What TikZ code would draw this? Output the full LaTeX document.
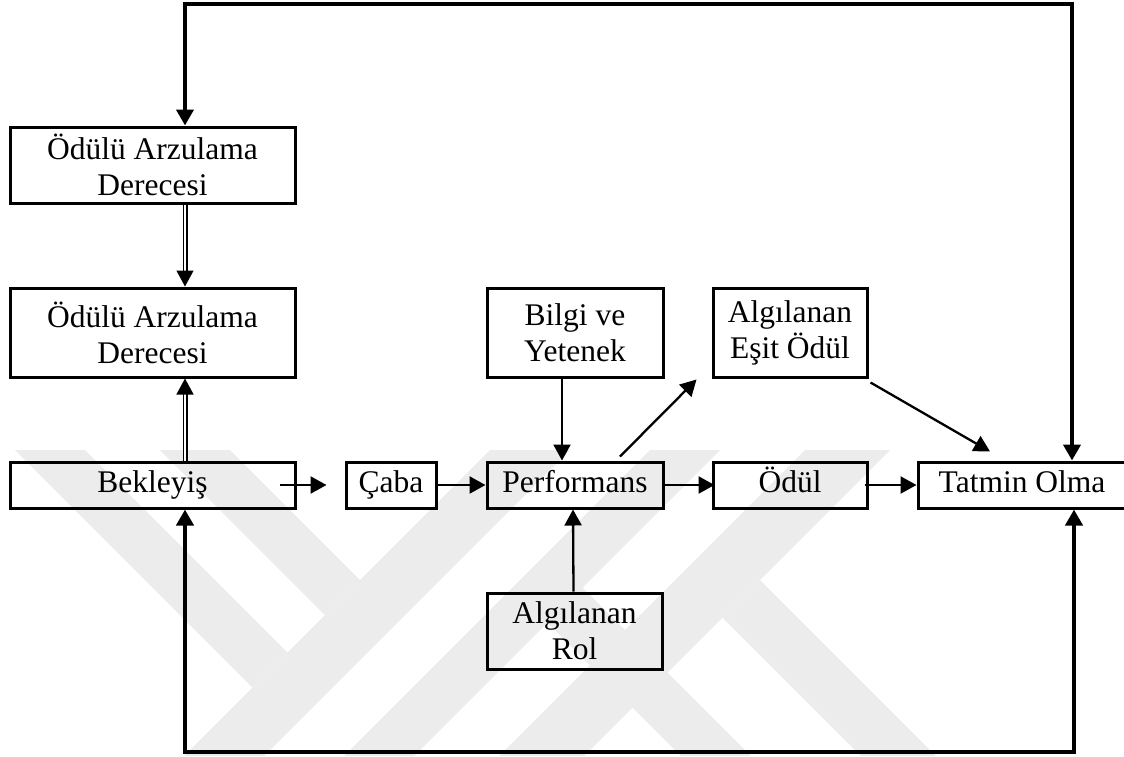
\documentclass[tikz,border=0pt]{standalone}
\usepackage{fontspec}
\setmainfont{Liberation Serif}
\usetikzlibrary{arrows.meta}
\definecolor{wmark}{HTML}{ECECEC}
\begin{document}
\begin{tikzpicture}[x=1pt,y=-1pt,
  box/.style={draw,line width=3pt,rectangle,inner sep=0pt,align=center,
    font=\fontsize{31.5}{36}\selectfont},
  onel/.style={box,minimum height=46pt,text height=22pt,text depth=7pt},
  arr/.style={line width=2.3pt,-{Triangle[length=16pt,width=17pt]}},
  dbl/.style={line width=1.3pt,double,double distance=2.4pt,-{Triangle[length=16pt,width=17pt]}},
  fb/.style={line width=4pt,line join=miter,{Triangle[length=16pt,width=17pt]}-{Triangle[length=16pt,width=17pt]}},
  wm/.style={fill=wmark,draw=none}]
\useasboundingbox (0,0) rectangle (1124,756);
\fill[white] (0,0) rectangle (1124,756);
% faint watermark bands
\fill[wm] (490,450) -- (570,450) -- (264,756) -- (184,756) -- cycle;
\fill[wm] (650,450) -- (720,450) -- (414,756) -- (344,756) -- cycle;
\fill[wm] (805,450) -- (890,450) -- (584,756) -- (499,756) -- cycle;
\fill[wm] (15,450) -- (85,450) -- (287.5,652.5) -- (252.5,687.5) -- cycle;
\fill[wm] (160,450) -- (230,450) -- (360,580) -- (325,615) -- cycle;
\fill[wm] (547.5,622.5) -- (582.5,587.5) -- (751,756) -- (681,756) -- cycle;
\fill[wm] (722.5,617.5) -- (760,580) -- (936,756) -- (861,756) -- cycle;
% nodes
\node[box,minimum width=285pt,minimum height=76pt] (b1) at (152.5,165) {Ödülü Arzulama\\Derecesi};
\node[box,minimum width=285pt,minimum height=89pt] (b2) at (152.5,332.5) {Ödülü Arzulama\\Derecesi};
\node[onel,minimum width=285pt] (bek) at (152.5,485) {Bekleyiş};
\node[onel,minimum width=90pt] (cab) at (391,485) {Çaba};
\node[onel,minimum width=176pt] (perf) at (575,485) {Performans};
\node[box,minimum width=176pt,minimum height=89pt] (bil) at (575,332.5) {Bilgi ve\\Yetenek};
\node[box,minimum width=154pt,minimum height=89pt] (aes) at (790,332.5) {Algılanan\\Eşit Ödül};
\node[onel,minimum width=154pt] (od) at (790,485) {Ödül};
\node[onel,minimum width=208pt] (tat) at (1022,485) {Tatmin Olma};
\node[box,minimum width=175pt,minimum height=76pt] (rol) at (574.5,631) {Algılanan\\Rol};
% loop coordinates
\coordinate (tr) at (1072,4);
\coordinate (tl) at (185,4);
\coordinate (br) at (1074,752);
\coordinate (bl) at (185,752);
% feedback loops
\draw[fb] (tat.north -| tr) -- (tr) -- (tl) -- (b1.north -| tl);
\draw[fb] (tat.south -| br) -- (br) -- (bl) -- (bek.south -| bl);
% double arrows
\draw[dbl] (b1.south -| tl) -- (b2.north -| tl);
\draw[dbl] (bek.north -| tl) -- (b2.south -| tl);
% simple arrows
\draw[arr] ([xshift=-17pt]bek.east) -- ([xshift=-18pt]cab.west);
\draw[arr] (cab.east) -- (perf.west);
\draw[arr] (perf.east) -- ([xshift=3pt]od.west);
\draw[arr] ([xshift=-4pt]od.east) -- (tat.west);
\draw[arr] ([xshift=-13pt]bil.south) -- ([xshift=-13pt]perf.north);
\draw[arr] ([xshift=-1pt]rol.north) -- ([xshift=-2pt]perf.south);
\draw[arr] ([xshift=45pt,yshift=4pt]perf.north) -- ([xshift=-15pt,yshift=-1pt]aes.south west);
\draw[arr] ([xshift=2pt,yshift=-4pt]aes.south east) -- ([xshift=-32pt,yshift=9pt]tat.north);
\end{tikzpicture}
\end{document}
